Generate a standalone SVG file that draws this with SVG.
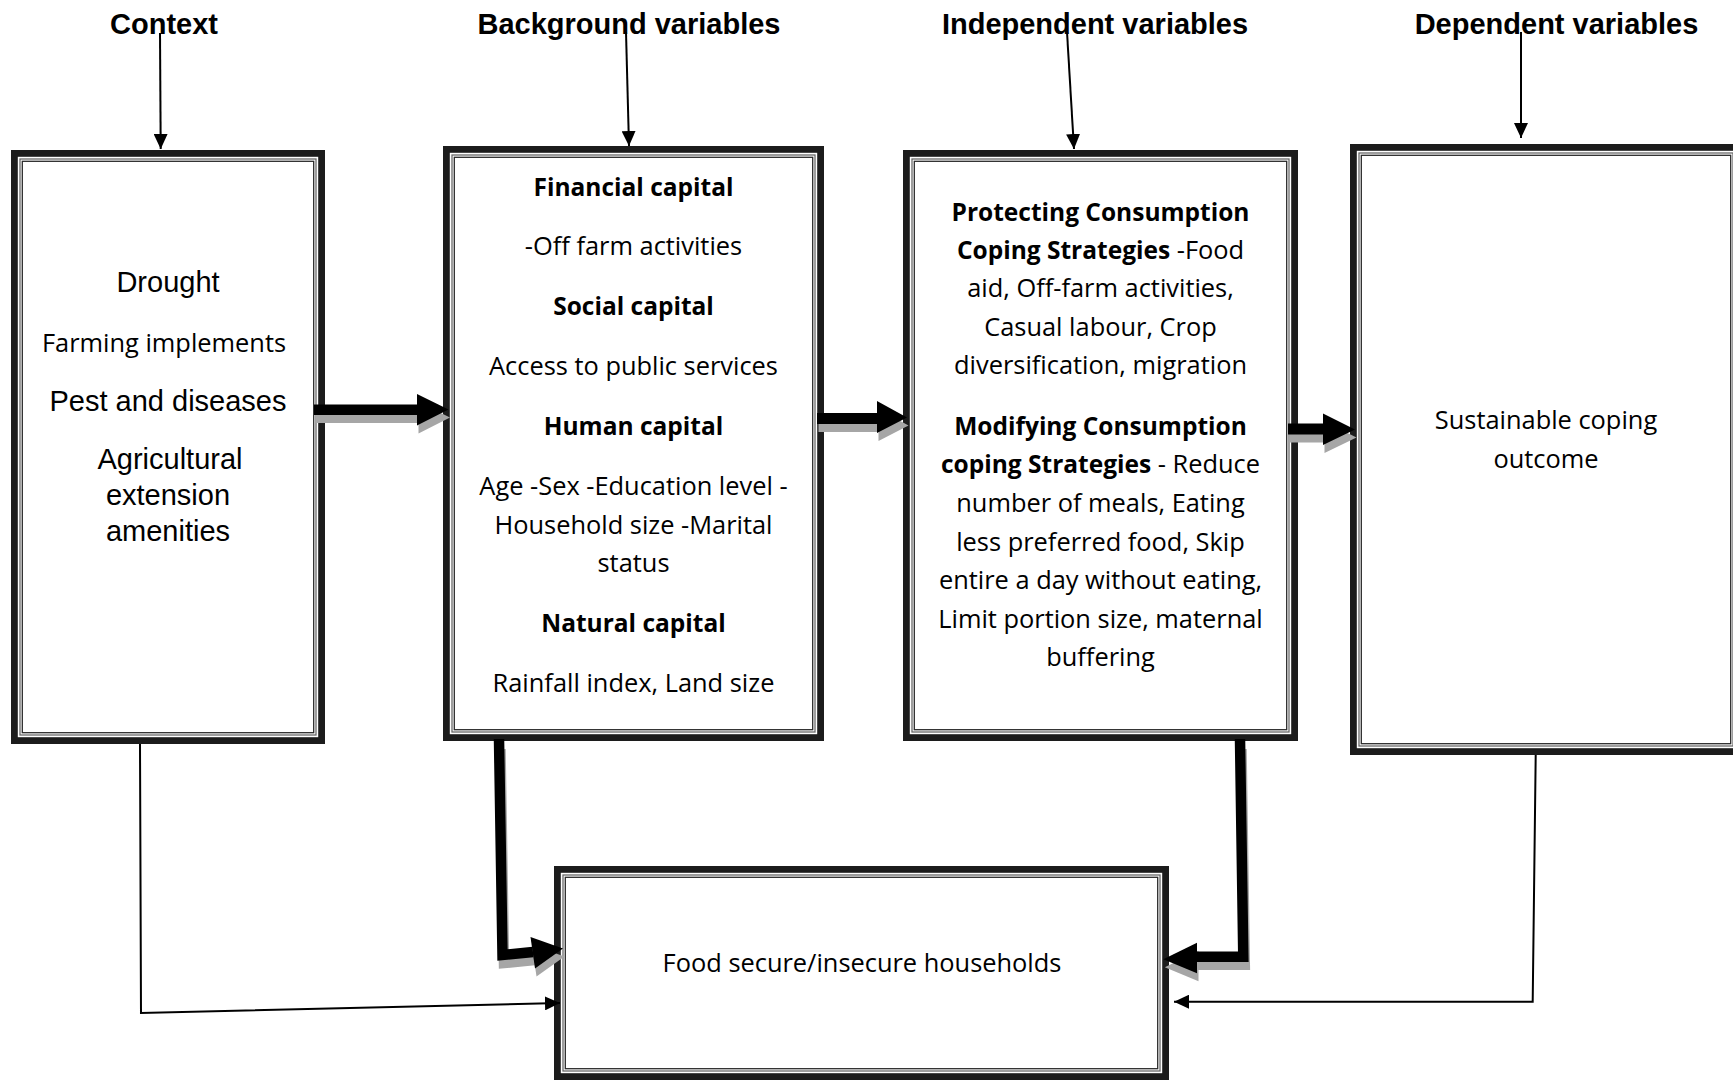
<svg xmlns="http://www.w3.org/2000/svg" width="1733" height="1080" viewBox="0 0 1733 1080">
<defs>
<style>
text{text-anchor:middle;fill:#000}
.t{font-family:"Liberation Sans",Arial,sans-serif;font-weight:bold;font-size:29px}
.a{font-family:"Liberation Sans",Arial,sans-serif;font-size:29px}
.c{font-family:"Open Sans","Noto Sans",sans-serif;font-size:25.4px}
.b{font-weight:bold;font-size:24.5px}
.bo{fill:none;stroke:#1c1c1c;stroke-width:6.8}
.bm{fill:none;stroke:#6a6a6a;stroke-width:1.3}
.bi{fill:none;stroke:#2a2a2a;stroke-width:1.3}
.thin{fill:none;stroke:#000;stroke-width:2;marker-end:url(#ah)}
.fat{fill:none;stroke:#000;stroke-width:10.5;stroke-linejoin:miter}
.fatS{fill:none;stroke:#a6a6a6;stroke-width:10.5;stroke-linejoin:miter}
.hd{fill:#000}
.hdS{fill:#a6a6a6}
</style>
<marker id="ah" viewBox="0 0 15 14" refX="15" refY="7" markerWidth="15" markerHeight="14" markerUnits="userSpaceOnUse" orient="auto">
<path d="M0,0 L15,7 L0,14 Z" fill="#000"/>
</marker>
</defs>
<rect width="1733" height="1080" fill="#fff"/>

<g id="titles">
<text class="t" x="164" y="34">Context</text>
<text class="t" x="629" y="34">Background variables</text>
<text class="t" x="1095" y="34">Independent variables</text>
<text class="t" x="1556.5" y="34">Dependent variables</text>
</g>

<g id="node-context">
<rect class="bo" x="14.4" y="153.4" width="307.2" height="587.2"/>
<rect class="bm" x="20" y="159" width="296" height="576"/>
<rect class="bi" x="22.3" y="161.3" width="291.4" height="571.4"/>
<text class="a" x="168" y="292">Drought</text>
<text class="c" x="164" y="352">Farming implements</text>
<text class="a" x="168" y="411">Pest and diseases</text>
<text class="a" x="170" y="469">Agricultural</text>
<text class="a" x="168" y="505">extension</text>
<text class="a" x="168" y="541">amenities</text>
</g>

<g id="node-background">
<rect class="bo" x="446.4" y="149.4" width="374.2" height="588.2"/>
<rect class="bm" x="452" y="155" width="363" height="577"/>
<rect class="bi" x="454.3" y="157.3" width="358.4" height="572.4"/>
<text class="c b" x="633.5" y="195.5">Financial capital</text>
<text class="c" x="633.5" y="254.5">-Off farm activities</text>
<text class="c b" x="633.5" y="315">Social capital</text>
<text class="c" x="633.5" y="374.5">Access to public services</text>
<text class="c b" x="633.5" y="434.5">Human capital</text>
<text class="c" x="633.5" y="494.5">Age -Sex -Education level -</text>
<text class="c" x="633.5" y="533.5">Household size -Marital</text>
<text class="c" x="633.5" y="572">status</text>
<text class="c b" x="633.5" y="631.5">Natural capital</text>
<text class="c" x="633.5" y="691.5">Rainfall index, Land size</text>
</g>

<g id="node-independent">
<rect class="bo" x="906.4" y="153.4" width="388.2" height="584.2"/>
<rect class="bm" x="912" y="159" width="377" height="573"/>
<rect class="bi" x="914.3" y="161.3" width="372.4" height="568.4"/>
<text class="c b" x="1100.5" y="221">Protecting Consumption</text>
<text class="c" x="1100.5" y="259"><tspan class="b">Coping Strategies</tspan> -Food</text>
<text class="c" x="1100.5" y="297">aid, Off-farm activities,</text>
<text class="c" x="1100.5" y="335.5">Casual labour, Crop</text>
<text class="c" x="1100.5" y="374">diversification, migration</text>
<text class="c b" x="1100.5" y="434.5">Modifying Consumption</text>
<text class="c" x="1100.5" y="473"><tspan class="b">coping Strategies</tspan> - Reduce</text>
<text class="c" x="1100.5" y="512">number of meals, Eating</text>
<text class="c" x="1100.5" y="550.5">less preferred food, Skip</text>
<text class="c" x="1100.5" y="589">entire a day without eating,</text>
<text class="c" x="1100.5" y="627.5">Limit portion size, maternal</text>
<text class="c" x="1100.5" y="666">buffering</text>
</g>

<g id="node-dependent">
<rect class="bo" x="1353.4" y="147.4" width="385.2" height="604.2"/>
<rect class="bm" x="1359" y="153" width="374" height="593"/>
<rect class="bi" x="1361.3" y="155.3" width="369.4" height="588.4"/>
<text class="c" x="1546" y="429">Sustainable coping</text>
<text class="c" x="1546" y="468">outcome</text>
</g>

<g id="node-outcome">
<rect class="bo" x="557.4" y="869.4" width="608.2" height="207.2"/>
<rect class="bm" x="563" y="875" width="597" height="196"/>
<rect class="bi" x="565.3" y="877.3" width="592.4" height="191.4"/>
<text class="c" x="862" y="972">Food secure/insecure households</text>
</g>

<g id="connectors">
<path class="thin" d="M160,33 L160.7,149"/>
<path class="thin" d="M626,32 L629,146"/>
<path class="thin" d="M1067,32 L1074,149"/>
<path class="thin" d="M1521,32 L1521,138"/>

<g transform="translate(1.5,8)">
<polygon class="hdS" points="314,404.5 417,404.5 417,394 448.5,409.5 417,425.5 417,415 314,415"/>
<polygon class="hdS" points="817,413 877,413 877,401 907,417.5 877,433 877,424 817,424"/>
<polygon class="hdS" points="1288,423.5 1323,423.5 1323,413.5 1355,429.5 1323,445 1323,434.5 1288,434.5"/>
<path class="fatS" d="M499,741 L502.5,955 L533,952"/>
<polygon class="hdS" points="530.5,937 563,948.5 535,968.5"/>
<path class="fatS" d="M1240,741 L1243.3,956.7 L1195,956.7"/>
<polygon class="hdS" points="1197,942.7 1163.3,959.3 1197,973.3"/>
</g>
<polygon class="hd" points="314,404.5 417,404.5 417,394 448.5,409.5 417,425.5 417,415 314,415"/>
<polygon class="hd" points="817,413 877,413 877,401 907,417.5 877,433 877,424 817,424"/>
<polygon class="hd" points="1288,423.5 1323,423.5 1323,413.5 1355,429.5 1323,445 1323,434.5 1288,434.5"/>
<path class="fat" d="M499,739 L502.5,955 L533,952"/>
<polygon class="hd" points="530.5,937 563,948.5 535,968.5"/>
<path class="fat" d="M1240,739 L1243.3,956.7 L1195,956.7"/>
<polygon class="hd" points="1197,942.7 1163.3,959.3 1197,973.3"/>

<path class="thin" d="M140,744 L141,1013 L560,1003"/>
<path class="thin" d="M1535.7,755 L1532.7,1001.7 L1174,1001.7"/>
</g>
</svg>
